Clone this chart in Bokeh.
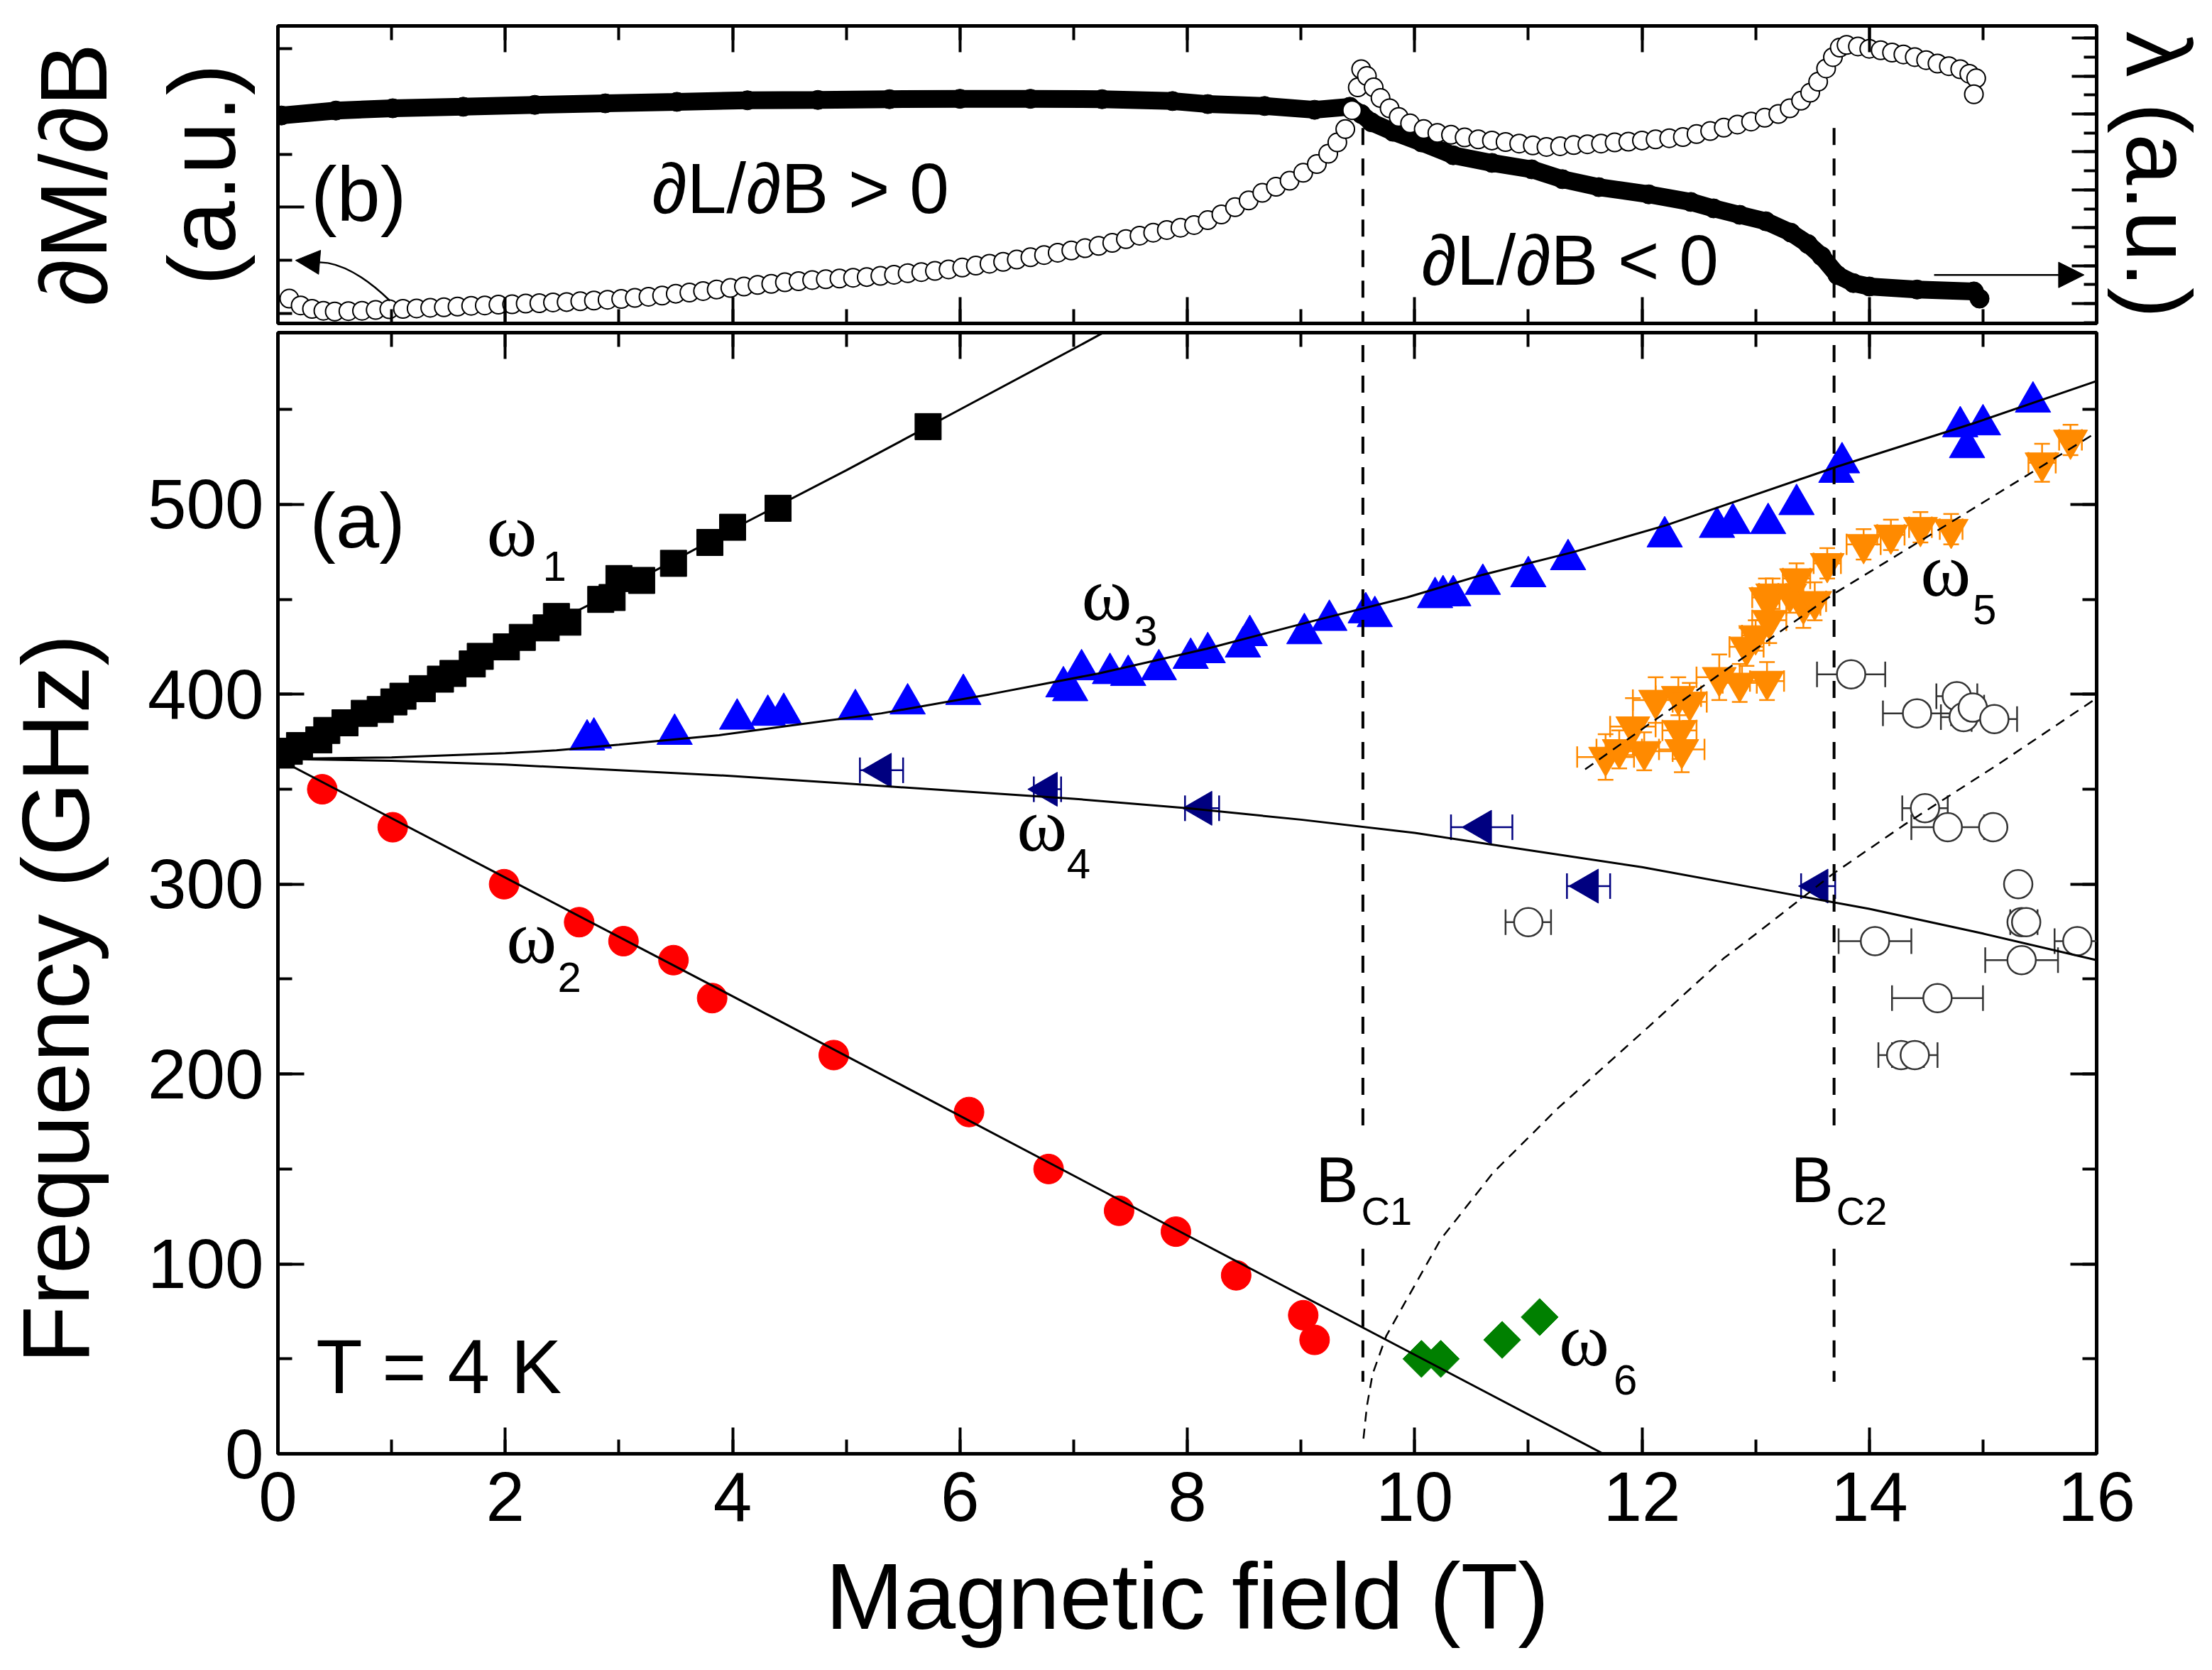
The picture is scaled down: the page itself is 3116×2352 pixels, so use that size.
import math
from bokeh.plotting import figure
from bokeh.models import (Range1d, LinearAxis, SingleIntervalTicker, FixedTicker, Label, Arrow,
                          NormalHead, CustomJSTickFormatter)
from bokeh.layouts import column
from bokeh.embed import file_html
from bokeh.resources import INLINE

SANS = "Liberation Sans"
SERIF = "Liberation Serif"

# ---------------- panel (b): field derivative data (arbitrary units) ----------------
lam_B = [0.03, 0.51, 1.01, 1.63, 2.26, 2.88, 3.51, 4.13, 4.75, 5.38, 6.0, 6.62, 7.25, 7.87, 8.18, 8.68,
         9.12, 9.43, 9.53, 9.62, 9.81, 10.06, 10.34, 10.68, 11.03, 11.30, 11.62, 12.06, 12.43, 12.63,
         12.86, 13.09, 13.31, 13.46, 13.58, 13.72, 13.86, 14.0, 14.42, 14.92, 14.97]
lam_v = [4.96, 5.09, 5.15, 5.19, 5.24, 5.28, 5.32, 5.36, 5.37, 5.39, 5.40, 5.40, 5.39, 5.34, 5.26, 5.21,
         5.11, 5.19, 5.0, 4.78, 4.53, 4.25, 3.91, 3.71, 3.54, 3.28, 3.07, 2.88, 2.68, 2.51,
         2.34, 2.17, 1.87, 1.57, 1.25, 0.75, 0.54, 0.45, 0.37, 0.32, 0.13]

dm_B = [0.10, 0.20, 0.30, 0.40, 0.50,
        0.62, 0.74, 0.86, 0.98, 1.10, 1.22, 1.34, 1.46, 1.58, 1.70, 1.82, 1.94, 2.06, 2.18, 2.30, 2.42,
        2.54, 2.66, 2.78, 2.90, 3.02, 3.14, 3.26, 3.38, 3.50, 3.62, 3.74, 3.86, 3.98, 4.10, 4.22, 4.34,
        4.46, 4.58, 4.70, 4.82, 4.94, 5.06, 5.18, 5.30, 5.42, 5.54, 5.66, 5.78, 5.90, 6.02, 6.14, 6.26,
        6.38, 6.50, 6.62, 6.74, 6.86, 6.98, 7.10, 7.22, 7.34, 7.46, 7.58, 7.70, 7.82, 7.94, 8.06, 8.18,
        8.30, 8.42, 8.54, 8.66, 8.78, 8.90, 9.02, 9.14,
        9.24, 9.32, 9.39, 9.45, 9.50, 9.53, 9.58, 9.64, 9.70, 9.78, 9.86, 9.96,
        10.08, 10.20, 10.32, 10.44, 10.56, 10.68, 10.80, 10.92, 11.04, 11.16, 11.28, 11.40, 11.52, 11.64,
        11.76, 11.88, 12.00, 12.12, 12.24, 12.36, 12.48, 12.60, 12.72, 12.84, 12.96, 13.08, 13.20,
        13.30, 13.40, 13.48, 13.55, 13.62, 13.68, 13.74, 13.80,
        13.90, 14.00, 14.10, 14.20, 14.30, 14.40, 14.50, 14.60, 14.70, 14.80,
        14.88, 14.94, 14.92]
dm_v = [0.13, -0.05, -0.14, -0.19, -0.21,
        -0.20, -0.19, -0.17, -0.15, -0.14, -0.13, -0.11, -0.10, -0.08, -0.06, -0.05, -0.03, -0.02, 0.00,
        0.01, 0.03, 0.04, 0.06, 0.08, 0.10, 0.12, 0.15, 0.18, 0.21, 0.26, 0.29, 0.33, 0.37, 0.41, 0.45,
        0.49, 0.52, 0.56, 0.59, 0.62, 0.64, 0.66, 0.68, 0.70, 0.73, 0.76, 0.80, 0.83, 0.86, 0.90, 0.95,
        1.00, 1.05, 1.10, 1.16, 1.22, 1.28, 1.34, 1.40, 1.46, 1.52, 1.60, 1.70, 1.79, 1.87, 1.94, 2.00,
        2.07, 2.20, 2.35, 2.54, 2.72, 2.92, 3.08, 3.24, 3.45, 3.68,
        3.95, 4.25, 4.60, 5.10, 5.70, 6.18, 6.00, 5.70, 5.42, 5.15, 4.92, 4.75,
        4.60, 4.50, 4.45, 4.38, 4.33, 4.30, 4.26, 4.22, 4.17, 4.13, 4.15, 4.18, 4.20, 4.22, 4.25, 4.27,
        4.30, 4.33, 4.36, 4.39, 4.47, 4.55, 4.64, 4.72, 4.80, 4.90, 5.00,
        5.15, 5.35, 5.56, 5.85, 6.20, 6.50, 6.75, 6.82,
        6.78, 6.72, 6.68, 6.62, 6.57, 6.50, 6.42, 6.33, 6.26, 6.18,
        6.06, 5.94, 5.52]

# ---------------- panel (a): resonance modes ----------------
w1_B = [0.03, 0.10, 0.19, 0.36, 0.43, 0.59, 0.76, 0.90, 1.02, 1.10, 1.27, 1.43, 1.54, 1.71, 1.78,
        2.01, 2.15, 2.36, 2.45, 2.55, 2.84, 2.94, 3.00, 3.20, 3.48, 3.80, 4.00, 4.40, 5.72]
w1_F = [368, 370, 373, 376, 381, 385, 390, 392, 396, 399, 403, 408, 411, 416, 420,
        425, 430, 435, 441, 438, 450, 451, 461, 460, 469, 480, 488, 498, 541]

w2_B = [0.39, 1.01, 1.99, 2.65, 3.04, 3.48, 3.82, 4.89, 6.08, 6.78, 7.40, 7.90, 8.43, 9.02, 9.12]
w2_F = [350, 330, 300, 280, 270, 260, 240, 210, 180, 150, 128, 117, 94, 73, 60]

w3_B = [2.72, 2.78, 3.49, 4.04, 4.31, 4.45, 5.08, 5.54, 6.03, 6.91, 6.97, 7.07, 7.32, 7.48, 7.75,
        8.03, 8.18, 8.49, 8.55, 9.03, 9.25, 9.57, 9.65, 10.18, 10.25, 10.34, 10.60, 11.00, 11.35,
        12.20, 12.66, 12.80, 13.11, 13.36, 13.71, 13.76, 14.80, 14.86, 15.00, 15.44]
w3_F = [376, 377, 379, 387, 389, 390, 392, 395, 400, 404, 402, 413, 411, 410, 413,
        419, 422, 425, 431, 432, 439, 443, 441, 451, 452, 452, 458, 462, 471,
        483, 488, 490, 490, 500, 517, 522, 541, 530, 542, 554]

w4_B = [5.31, 6.77, 8.13, 10.59, 11.53, 13.55]
w4_F = [360, 350, 340, 330, 299, 299]
w4_xerr = [0.19, 0.12, 0.15, 0.27, 0.19, 0.15]

w5_B = [11.68, 11.80, 11.92, 12.02, 12.12, 12.32, 12.33, 12.35, 12.42, 12.68, 12.86, 12.92, 13.00,
        13.09, 13.10, 13.12, 13.15, 13.30, 13.36, 13.42, 13.52, 13.63, 13.95, 14.19, 14.45, 14.72,
        15.52, 15.77]
w5_F = [367, 371, 383, 370, 397, 399, 381, 371, 396, 409, 406, 425, 431,
        451, 407, 439, 453, 453, 461, 447, 449, 469, 479, 484, 488, 487,
        522, 534]
w5_xerr = [0.25, 0.2, 0.2, 0.25, 0.2, 0.2, 0.15, 0.2, 0.15, 0.2, 0.15, 0.15, 0.12,
           0.12, 0.15, 0.15, 0.12, 0.1, 0.12, 0.15, 0.1, 0.12, 0.15, 0.12, 0.1, 0.1,
           0.12, 0.1]
w5_yerr = [12, 10, 15, 10, 12, 10, 15, 12, 10, 12, 10, 10, 8,
           10, 10, 12, 8, 10, 8, 12, 10, 8, 8, 8, 8, 8,
           10, 8]

w6_B = [10.06, 10.23, 10.77, 11.10]
w6_F = [50, 50, 60, 72]

oc_B = [11.00, 13.84, 14.42, 14.77, 14.83, 14.91, 15.10, 14.49, 14.69, 15.09, 15.31, 15.34, 15.38,
        15.83, 15.34, 14.05, 14.60, 14.28, 14.40]
oc_F = [280, 410.5, 390, 399, 388, 393, 387, 340, 330, 330, 300, 280, 280,
        270, 260, 270, 240, 210, 210]
oc_xerr = [0.2, 0.30, 0.30, 0.18, 0.2, 0.1, 0.2, 0.2, 0.32, 0.0, 0.0, 0.1, 0.1,
           0.2, 0.32, 0.32, 0.4, 0.2, 0.2]

# model curves
fit1_B = [0, 1, 2, 3, 4, 5, 6, 7, 7.4]
fit1_F = [366, 396, 425, 455, 487, 518, 550, 582, 595]
fit2_B = [0, 4, 8, 11.66]
fit2_F = [366, 241, 115, 0]
fit3_B = [0, 1, 2, 2.45, 3, 3.88, 5.31, 6.26, 7.22, 8.17, 9.13, 9.93, 10.6, 11.4, 12.21, 13.72, 14.93, 16.0]
fit3_F = [366, 366.8, 369, 370.5, 373.5, 378.5, 390, 400, 411, 424, 439, 451, 463, 475, 489, 520, 543, 565]
fit4_B = [0, 1, 2, 3, 4, 5, 6, 7, 8, 9, 10, 11, 12, 13, 14, 15, 16]
fit4_F = [366, 365, 363, 360, 357, 353, 349, 345, 340, 334, 327, 318, 309, 298, 287, 274, 260]
fit5_B = [11.5, 12.6, 13.69, 14.81, 15.96, 16.0]
fit5_F = [360.5, 407, 453, 494, 536.5, 538]
fit6_B = [9.55, 9.58, 9.63, 9.75, 9.89, 10.23, 10.69, 11.26, 12.06, 12.72, 13.05, 13.67, 14.30, 15.13, 16.0]
fit6_F = [8, 25, 42, 62, 77, 113, 148, 182, 225, 261, 276, 305, 331, 363, 398]

BC_B = [9.545, 13.69]

x_ticks_major = 2
y_ticks_major = 100

W = 3116
ML, MR = 388, 163
TOP_PX_PER_U = 53.4      # vertical px per unit in panel (b)
BOT_PX_PER_U = 2.674     # vertical px per GHz in panel (a)

blank = CustomJSTickFormatter(code="return ''")


def style_axis(ax, show_labels=False, label=None, label_size="134px", label_standoff=0,
               tick_label_size="98px", tick_standoff=20, major_len=37, minor_len=20):
    ax.axis_line_color = None
    ax.major_tick_in = major_len
    ax.major_tick_out = 0
    ax.minor_tick_in = minor_len
    ax.minor_tick_out = 0
    ax.major_tick_line_width = 4
    ax.minor_tick_line_width = 4
    ax.major_tick_line_color = "black"
    ax.minor_tick_line_color = "black"
    if show_labels:
        ax.major_label_text_font = SANS
        ax.major_label_text_font_size = tick_label_size
        ax.major_label_text_color = "black"
        ax.major_label_standoff = tick_standoff
    else:
        ax.formatter = blank
        ax.major_label_text_font_size = "1px"
        ax.major_label_standoff = 0
    if label:
        ax.axis_label = label
        ax.axis_label_text_font = SANS
        ax.axis_label_text_font_size = label_size
        ax.axis_label_text_font_style = "normal"
        ax.axis_label_text_color = "black"
        ax.axis_label_standoff = label_standoff
    return ax


def txt(p, x, y_base, s, size, scale, font=SANS, align="left"):
    """Place text so that its baseline sits at y_base (data units), via the em-box middle."""
    p.add_layout(Label(x=x, y=y_base + 0.3465 * size / scale, text=s, text_font=font,
                       text_font_size=f"{size}px", text_align=align, text_baseline="middle",
                       text_color="black"))


def xerr(p, xs, ys, errs, color, cap, lw=2.5):
    xx = [x for x, e in zip(xs, errs) if e > 0]
    yy = [y for y, e in zip(ys, errs) if e > 0]
    ee = [e for e in errs if e > 0]
    p.segment(x0=[x - e for x, e in zip(xx, ee)], y0=yy, x1=[x + e for x, e in zip(xx, ee)], y1=yy,
              line_color=color, line_width=lw)
    p.scatter(x=[x - e for x, e in zip(xx, ee)] + [x + e for x, e in zip(xx, ee)], y=yy + yy,
              marker="dash", angle=math.pi / 2, size=cap, line_color=color, line_width=lw)


def yerr(p, xs, ys, errs, color, cap, lw=2.5):
    p.segment(x0=xs, y0=[y - e for y, e in zip(ys, errs)], x1=xs, y1=[y + e for y, e in zip(ys, errs)],
              line_color=color, line_width=lw)
    p.scatter(x=xs + xs, y=[y - e for y, e in zip(ys, errs)] + [y + e for y, e in zip(ys, errs)],
              marker="dash", size=cap, line_color=color, line_width=lw)


# ====================== top panel (b) ======================
top = figure(width=W, height=461, x_range=Range1d(0, 16), y_range=Range1d(-0.524, 7.322),
             x_axis_location=None, y_axis_location=None, output_backend="svg", toolbar_location=None,
             min_border_left=ML, min_border_right=MR, min_border_top=36, min_border_bottom=6)
top.outline_line_color = "black"
top.outline_line_width = 5
top.grid.visible = False
top.background_fill_color = "white"
top.border_fill_color = "white"

top.add_layout(style_axis(LinearAxis(ticker=FixedTicker(ticks=[2.55], minor_ticks=[6.72, 3.93, 1.14, -0.26])),
                          label="(a.u.)", label_standoff=33), "left")
top.add_layout(style_axis(LinearAxis(ticker=FixedTicker(ticks=[], minor_ticks=[])),
                          label="\u2202M/\u2202B", label_standoff=29, major_len=0, minor_len=0), "left")
top.add_layout(style_axis(LinearAxis(ticker=SingleIntervalTicker(interval=1, num_minor_ticks=2)),
                          label="\u03bb (a.u.)", label_size="130px", label_standoff=14,
                          major_len=35, minor_len=18), "right")
top.add_layout(style_axis(LinearAxis(ticker=SingleIntervalTicker(interval=x_ticks_major, num_minor_ticks=2))), "above")
top.add_layout(style_axis(LinearAxis(ticker=SingleIntervalTicker(interval=x_ticks_major, num_minor_ticks=2))), "below")

top.segment(x0=BC_B, y0=[4.63, 4.63], x1=BC_B, y1=[-0.6, -0.6], line_color="black",
            line_width=4, line_dash="24 19")
top.line(lam_B, lam_v, line_color="black", line_width=25)
top.scatter(lam_B, lam_v, marker="circle", size=27, color="black")
top.scatter(dm_B, dm_v, marker="circle", size=26, fill_color="white", line_color="black", line_width=2)

top.quadratic(x0=[0.985], y0=[0.075], x1=[0.44], y1=[1.07], cx=[0.69], cy=[0.93],
              line_color="black", line_width=2.5)
top.add_layout(Arrow(end=NormalHead(size=34, fill_color="black", line_color="black"),
                     x_start=0.44, y_start=1.07, x_end=0.155, y_end=1.14,
                     line_color="black", line_width=2.5))
top.add_layout(Arrow(end=NormalHead(size=36, fill_color="black", line_color="black"),
                     x_start=14.57, y_start=0.755, x_end=15.89, y_end=0.755,
                     line_color="black", line_width=2.5))

txt(top, 0.29, 2.19, "(b)", 110, TOP_PX_PER_U)
txt(top, 3.29, 2.40, "\u2202L/\u2202B > 0", 100, TOP_PX_PER_U)
txt(top, 10.06, 0.51, "\u2202L/\u2202B < 0", 100, TOP_PX_PER_U)

# ====================== bottom panel (a) ======================
bot = figure(width=W, height=1891, x_range=Range1d(0, 16), y_range=Range1d(0, 590.5),
             x_axis_location=None, y_axis_location=None, output_backend="svg", toolbar_location=None,
             min_border_left=ML, min_border_right=MR, min_border_top=7, min_border_bottom=305)
bot.outline_line_color = "black"
bot.outline_line_width = 5
bot.grid.visible = False
bot.background_fill_color = "white"
bot.border_fill_color = "white"

bot.add_layout(style_axis(LinearAxis(ticker=SingleIntervalTicker(interval=x_ticks_major, num_minor_ticks=2)),
                          show_labels=True, tick_standoff=26, label="Magnetic field (T)",
                          label_size="132px", label_standoff=30), "below")
# trailing no-break spaces move the rotated title towards the bottom, as in the original
bot.add_layout(style_axis(LinearAxis(ticker=SingleIntervalTicker(interval=y_ticks_major, num_minor_ticks=2)),
                          show_labels=True, tick_standoff=20,
                          label="Frequency (GHz)" + "\u00a0" * 8,
                          label_size="134px", label_standoff=52), "left")
bot.add_layout(style_axis(LinearAxis(ticker=SingleIntervalTicker(interval=x_ticks_major, num_minor_ticks=2))), "above")
bot.add_layout(style_axis(LinearAxis(ticker=SingleIntervalTicker(interval=y_ticks_major, num_minor_ticks=2))), "right")

# error bars
xerr(bot, w4_B, w4_F, w4_xerr, "#000080", 36)
xerr(bot, w5_B, w5_F, w5_xerr, "#FF8A00", 30)
yerr(bot, w5_B, w5_F, w5_yerr, "#FF8A00", 22)
xerr(bot, oc_B, oc_F, oc_xerr, "#333333", 36)

# markers
bot.scatter(w1_B, w1_F, marker="square", size=37, color="black")
bot.scatter(w2_B, w2_F, marker="circle", size=42, color="#FF0000")
bot.scatter(w3_B, w3_F, marker="triangle", size=50, color="#0000FF")
bot.scatter(w4_B, w4_F, marker="triangle", size=48, angle=math.pi / 2, color="#000080")
bot.scatter(w5_B, w5_F, marker="inverted_triangle", size=48, color="#FF8A00")
bot.scatter(w6_B, w6_F, marker="square", size=37, angle=math.pi / 4, color="#008000")
bot.scatter(oc_B, oc_F, marker="circle", size=40, fill_color="white", line_color="#333333", line_width=2.5)

# model curves
for xs, ys in [(fit1_B, fit1_F), (fit2_B, fit2_F), (fit3_B, fit3_F), (fit4_B, fit4_F)]:
    bot.line(xs, ys, line_color="black", line_width=3)
bot.line(fit5_B, fit5_F, line_color="black", line_width=2.5, line_dash="14 10")
bot.line(fit6_B, fit6_F, line_color="black", line_width=2.5, line_dash="14 10")

# critical fields
bot.segment(x0=BC_B, y0=[600, 600], x1=BC_B, y1=[168, 168], line_color="black", line_width=4, line_dash="24 19")
bot.segment(x0=BC_B, y0=[108, 108], x1=BC_B, y1=[38, 38], line_color="black", line_width=4, line_dash="24 19")

# texts
S = BOT_PX_PER_U
txt(bot, 0.28, 477.7, "(a)", 110, S)
txt(bot, 0.335, 32, "T = 4 K", 107, S)
omegas = [(1.836, 472.5, 2.33, 459.8, "1"), (2.01, 258.2, 2.46, 243.3, "2"),
          (7.07, 439, 7.53, 425.5, "3"), (6.50, 317.5, 6.94, 303.0, "4"),
          (14.45, 451.6, 14.91, 436.8, "5"), (11.27, 46.1, 11.75, 31.25, "6")]
for xo, yo, xs_, ys_, sub in omegas:
    txt(bot, xo, yo, "\u03c9", 108, S, SERIF)
    txt(bot, xs_, ys_, sub, 60, S)
txt(bot, 9.13, 132.4, "B", 90, S)
txt(bot, 9.53, 120.5, "C1", 56, S)
txt(bot, 13.31, 132.4, "B", 90, S)
txt(bot, 13.71, 120.5, "C2", 56, S)

layout = column(top, bot, spacing=0)
open("out.html", "w").write(file_html(layout, INLINE))
